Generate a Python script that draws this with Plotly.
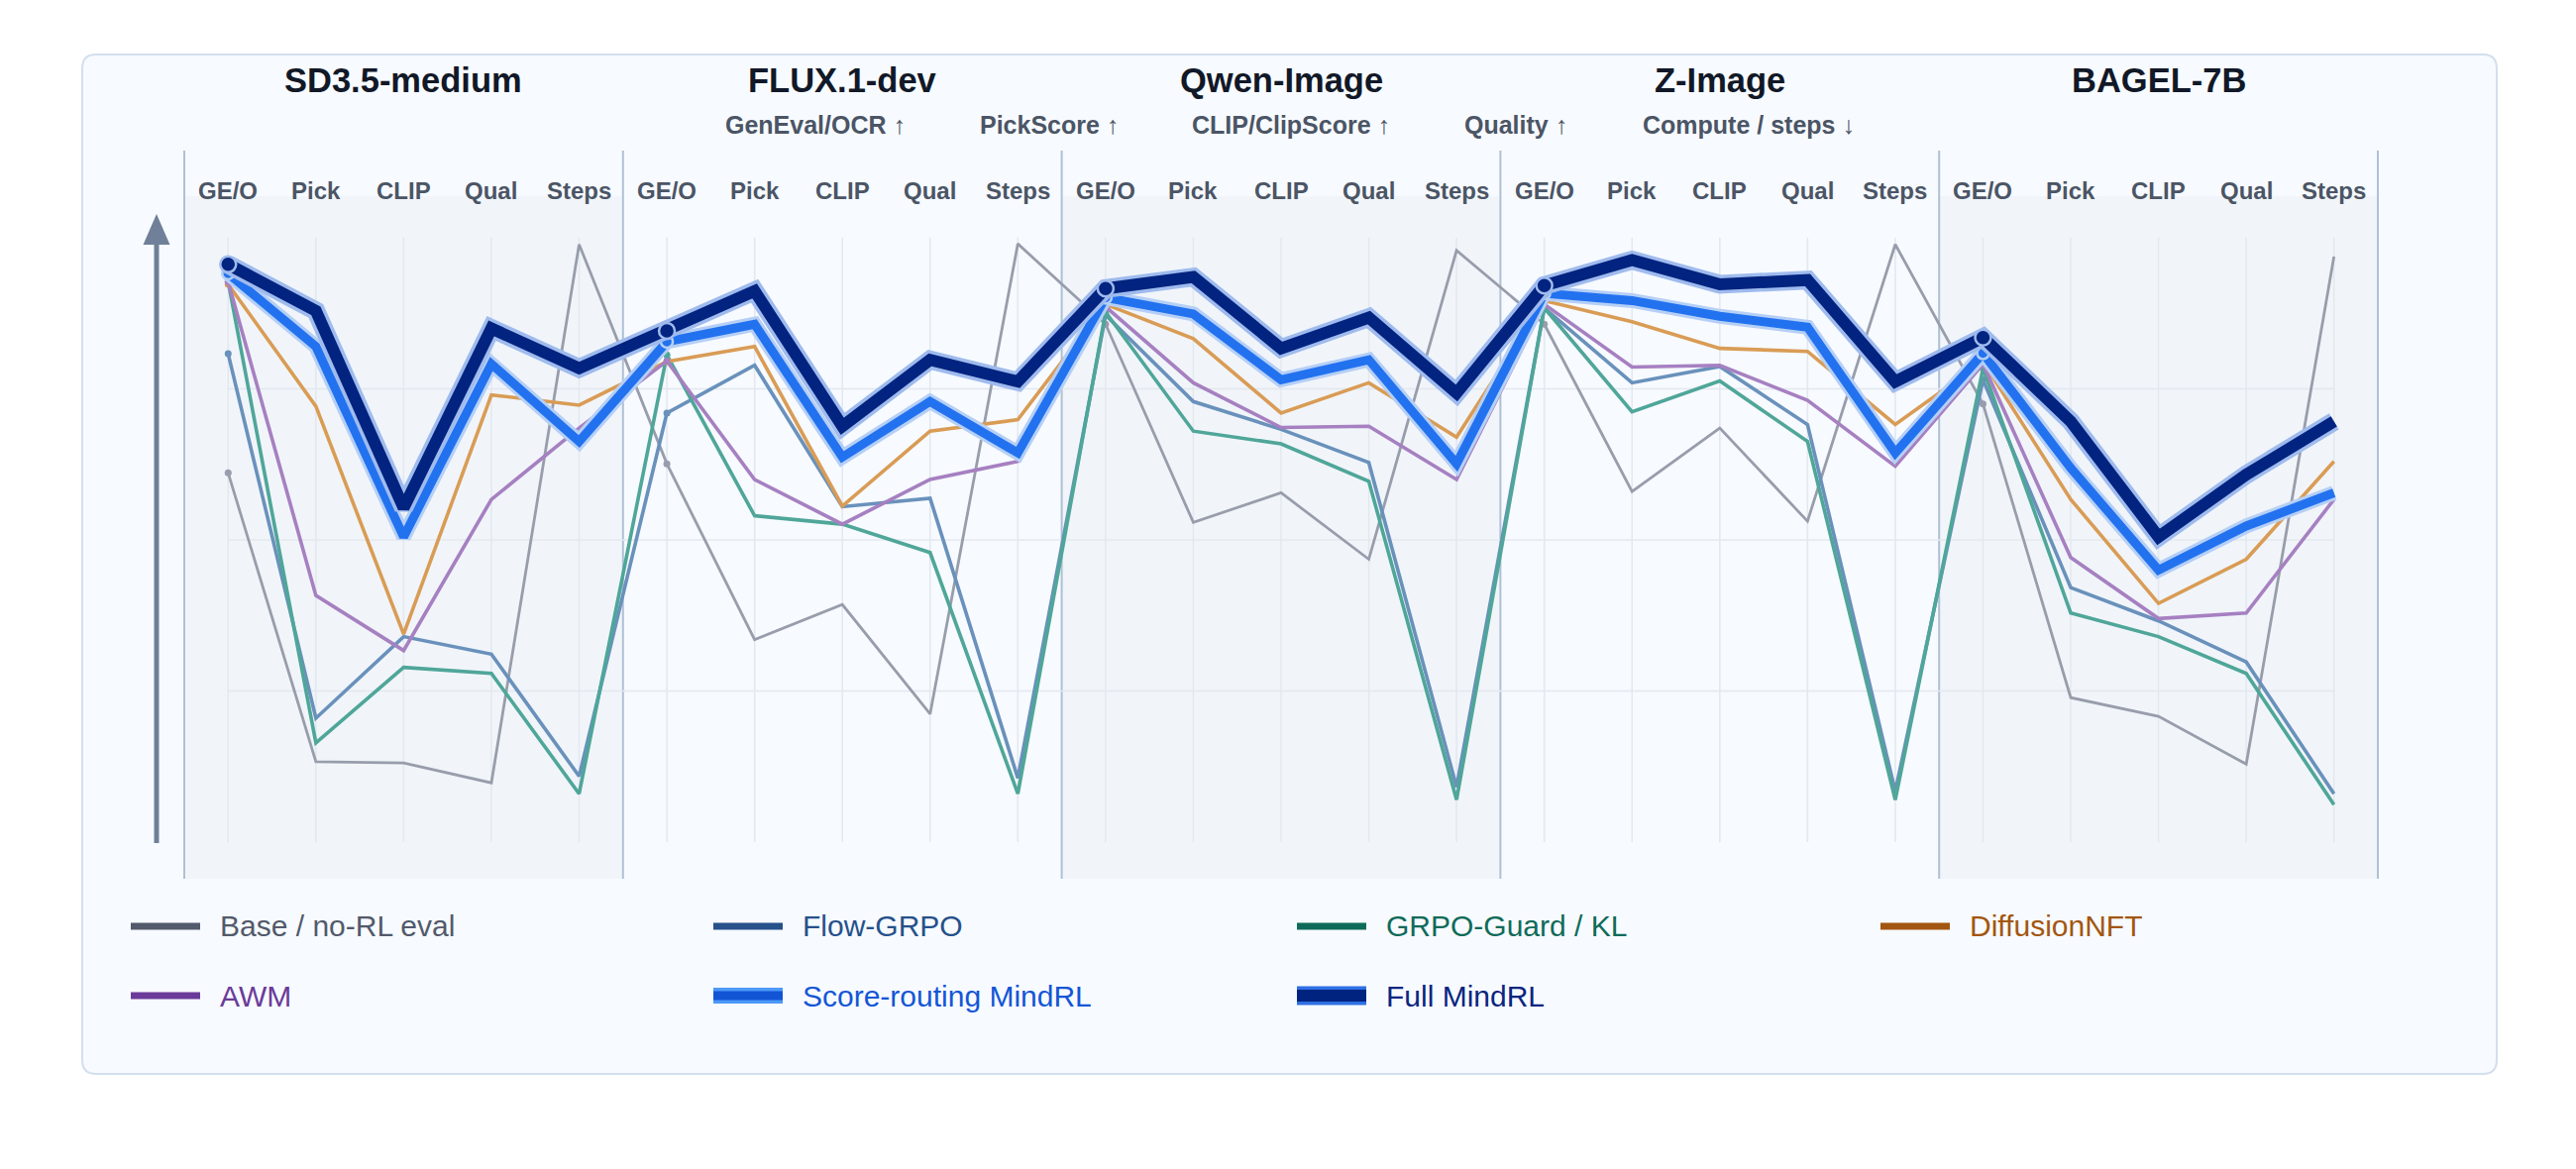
import plotly.graph_objects as go

# ---------------- data (normalized score, 0-100, higher = drawn higher) ----------------
models = ["SD3.5-medium", "FLUX.1-dev", "Qwen-Image", "Z-Image", "BAGEL-7B"]
metrics = ["GE/O", "Pick", "CLIP", "Qual", "Steps"]
metric_names = ["GenEval/OCR ↑", "PickScore ↑", "CLIP/ClipScore ↑", "Quality ↑", "Compute / steps ↓"]

base_no_rl = [61.1, 13.3, 13.1, 9.8, 98.9,
              62.6, 33.5, 39.3, 21.2, 99.0,
              85.7, 52.9, 57.8, 46.8, 97.9,
              85.7, 58.0, 68.5, 53.1, 98.9,
              72.5, 23.9, 20.8, 12.9, 96.9]
flow_grpo = [80.8, 20.5, 34.0, 31.1, 10.9,
             71.0, 78.9, 55.5, 56.9, 10.6,
             87.2, 72.9, 68.3, 62.8, 9.1,
             88.4, 76.0, 78.7, 69.1, 8.4,
             76.5, 42.1, 36.6, 29.8, 8.0]
grpo_guard = [92.7, 16.4, 28.9, 27.9, 8.0,
              80.6, 54.0, 52.6, 47.9, 8.0,
              87.7, 68.0, 65.9, 59.7, 7.0,
              88.4, 71.2, 76.3, 66.3, 7.0,
              78.4, 37.9, 34.0, 27.9, 6.2]
diffusion_nft = [92.3, 72.1, 34.4, 74.0, 72.3,
                 79.5, 82.0, 55.6, 68.0, 69.9,
                 89.0, 83.3, 71.0, 76.0, 67.0,
                 89.6, 86.1, 81.7, 81.2, 69.1,
                 79.5, 56.7, 39.5, 46.8, 63.0]
awm = [92.7, 40.8, 31.7, 56.7, 68.5,
       79.6, 60.0, 52.6, 60.0, 63.0,
       88.6, 76.0, 68.6, 68.8, 60.0,
       89.0, 78.6, 78.9, 73.1, 62.2,
       79.1, 47.1, 37.0, 37.9, 56.7]
score_routing = [94.1, 82.0, 50.5, 79.1, 66.3,
                 82.8, 85.7, 63.7, 72.9, 64.4,
                 90.1, 87.4, 76.5, 79.8, 62.6,
                 90.8, 89.6, 87.0, 85.2, 64.4,
                 80.9, 61.9, 45.0, 52.3, 57.8]
full_mindrl = [95.6, 87.9, 55.3, 85.0, 78.4,
               84.6, 91.2, 68.8, 79.8, 76.2,
               91.6, 93.5, 81.7, 86.8, 74.3,
               92.1, 96.3, 92.3, 93.0, 76.2,
               83.5, 69.6, 50.5, 60.8, 69.6]

series_names = ["Base / no-RL eval", "Flow-GRPO", "GRPO-Guard / KL", "DiffusionNFT",
                "AWM", "Score-routing MindRL", "Full MindRL"]
series_values = [base_no_rl, flow_grpo, grpo_guard, diffusion_nft, awm, score_routing, full_mindrl]

# ---------------- styles ----------------
styles = {
    "Base / no-RL eval": dict(line="#989dab", width=2.8, msize=7, legend="#525a6b", text="#525a6b"),
    "Flow-GRPO": dict(line="#6991bb", width=3.6, msize=7, legend="#26518a", text="#26518a"),
    "GRPO-Guard / KL": dict(line="#4fa699", width=3.6, msize=7, legend="#0f6b59", text="#0f6b59"),
    "DiffusionNFT": dict(line="#d99c55", width=3.6, msize=7, legend="#a3560f", text="#a3560f"),
    "AWM": dict(line="#a680c1", width=3.6, msize=7, legend="#6b3b99", text="#6b3b99"),
    "Score-routing MindRL": dict(line="#2272f0", width=9, halo="#b5cff6", halow=15, msize=12,
                                 legend="#1155d5", legend_out="#4d98f8", text="#1456d6"),
    "Full MindRL": dict(line="#02237f", width=12, halo="#9fbbee", halow=19, msize=16,
                        legend="#00237f", legend_out="#2f6fe3", text="#0a2580"),
}

FONT = "Liberation Sans, Arial, Helvetica, sans-serif"

W, H = 2600, 1180
PL, PR, PT, PB = 186, 2400, 198, 887          # plot area in pixels
Y_TOP_PX, Y_BOT_PX = 240, 850                  # value 100 / value 0
ppu = (Y_BOT_PX - Y_TOP_PX) / 100.0
yr = [0 - (PB - Y_BOT_PX) / ppu, 100 + (Y_TOP_PX - PT) / ppu]

def pxp(x):
    return (x - PL) / (PR - PL)

def pyp(y):
    return (PB - y) / (PB - PT)

n_axes = len(models) * len(metrics)
xs = list(range(n_axes))
first_idx = xs[::len(metrics)]

fig = go.Figure()

for name, vals in zip(series_names, series_values):
    st = styles[name]
    if "halo" in st:
        fig.add_trace(go.Scatter(x=xs, y=vals, mode="lines",
                                 line=dict(color=st["halo"], width=st["halow"]),
                                 hoverinfo="skip", showlegend=False))
        fig.add_trace(go.Scatter(x=xs, y=vals, mode="lines",
                                 line=dict(color=st["line"], width=st["width"]),
                                 name=name, showlegend=False))
        fig.add_trace(go.Scatter(x=[xs[i] for i in first_idx], y=[vals[i] for i in first_idx],
                                 mode="markers",
                                 marker=dict(size=st["msize"], color=st["line"],
                                             line=dict(color=st["halo"], width=2.5)),
                                 hoverinfo="skip", showlegend=False))
    else:
        fig.add_trace(go.Scatter(x=xs, y=vals, mode="lines",
                                 line=dict(color=st["line"], width=st["width"]),
                                 name=name, showlegend=False))
        fig.add_trace(go.Scatter(x=[xs[i] for i in first_idx], y=[vals[i] for i in first_idx],
                                 mode="markers",
                                 marker=dict(size=st["msize"], color=st["line"]),
                                 hoverinfo="skip", showlegend=False))

shapes = []

# card with rounded corners
cx0, cx1, cy0, cy1 = pxp(83), pxp(2520), pyp(1084), pyp(55)
rx, ry = 14 / (PR - PL), 14 / (PB - PT)
card_path = (f"M {cx0+rx},{cy1} L {cx1-rx},{cy1} Q {cx1},{cy1} {cx1},{cy1-ry} "
             f"L {cx1},{cy0+ry} Q {cx1},{cy0} {cx1-rx},{cy0} L {cx0+rx},{cy0} "
             f"Q {cx0},{cy0} {cx0},{cy0+ry} L {cx0},{cy1-ry} Q {cx0},{cy1} {cx0+rx},{cy1} Z")
shapes.append(dict(type="path", path=card_path, xref="paper", yref="paper",
                   fillcolor="#f7faff", line=dict(color="#d3dfed", width=2), layer="below"))

# alternating panel shading
for i in range(len(models)):
    if i % 2 == 0:
        shapes.append(dict(type="rect", xref="paper", yref="paper",
                           x0=i / len(models), x1=(i + 1) / len(models), y0=0, y1=1,
                           fillcolor="#f1f5fa", line=dict(width=0), layer="below"))

# grid lines
for k in xs:
    shapes.append(dict(type="line", xref="x", yref="y", x0=k, x1=k, y0=0, y1=100,
                       line=dict(color="#e3e8ef", width=1.5), layer="below"))
for v in (25, 50, 75):
    shapes.append(dict(type="line", xref="x", yref="y", x0=0, x1=n_axes - 1, y0=v, y1=v,
                       line=dict(color="#e3e8ef", width=1.5), layer="below"))

# panel separators
for i in range(len(models) + 1):
    shapes.append(dict(type="line", xref="paper", yref="paper",
                       x0=i / len(models), x1=i / len(models), y0=0, y1=pyp(152),
                       line=dict(color="#afc0d5", width=2), layer="below"))

# "higher is better" arrow on the left
ax_x = pxp(158)
shapes.append(dict(type="line", xref="paper", yref="paper", x0=ax_x, x1=ax_x,
                   y0=pyp(851), y1=pyp(244), line=dict(color="#6f8098", width=5)))
shapes.append(dict(type="path", xref="paper", yref="paper",
                   path=f"M {ax_x},{pyp(216)} L {pxp(171.5)},{pyp(247)} L {pxp(144.5)},{pyp(247)} Z",
                   fillcolor="#6f8098", line=dict(width=0)))

annotations = []

# model titles
for i, m in enumerate(models):
    annotations.append(dict(text=f"<b>{m}</b>", xref="paper", yref="paper",
                            x=(i + 0.5) / len(models), y=pyp(81), showarrow=False,
                            xanchor="center", yanchor="middle",
                            font=dict(family=FONT, size=34.5, color="#111827")))

# metric legend row
metric_centers_px = [823, 1059, 1303, 1530, 1765]
for t, cpx in zip(metric_names, metric_centers_px):
    annotations.append(dict(text=f"<b>{t}</b>", xref="paper", yref="paper",
                            x=pxp(cpx), y=pyp(126), showarrow=False,
                            xanchor="center", yanchor="middle",
                            font=dict(family=FONT, size=25, color="#4b5565")))

# per-axis labels
for i, m in enumerate(models):
    for j, lab in enumerate(metrics):
        annotations.append(dict(text=f"<b>{lab}</b>", xref="x", yref="paper",
                                x=i * len(metrics) + j, y=pyp(192), showarrow=False,
                                xanchor="center", yanchor="middle",
                                font=dict(family=FONT, size=24, color="#4b5565")))

# custom legend
legend_cols_px = [132, 720, 1309, 1898]
legend_rows_px = [935, 1005]
for idx, name in enumerate(series_names):
    st = styles[name]
    r, c = divmod(idx, 4)
    x0p, x1p = legend_cols_px[c], legend_cols_px[c] + 70
    ypx = legend_rows_px[r]
    if "legend_out" in st:
        ho = 19 if name == "Full MindRL" else 16
        hi = 12 if name == "Full MindRL" else 9
        shapes.append(dict(type="rect", xref="paper", yref="paper",
                           x0=pxp(x0p), x1=pxp(x1p), y0=pyp(ypx + ho / 2), y1=pyp(ypx - ho / 2),
                           fillcolor=st["legend_out"], line=dict(width=0)))
        shapes.append(dict(type="rect", xref="paper", yref="paper",
                           x0=pxp(x0p), x1=pxp(x1p), y0=pyp(ypx + hi / 2), y1=pyp(ypx - hi / 2),
                           fillcolor=st["legend"], line=dict(width=0)))
    else:
        shapes.append(dict(type="line", xref="paper", yref="paper",
                           x0=pxp(x0p), x1=pxp(x1p), y0=pyp(ypx), y1=pyp(ypx),
                           line=dict(color=st["legend"], width=7)))
    annotations.append(dict(text=name, xref="paper", yref="paper",
                            x=pxp(x1p + 18), y=pyp(ypx), showarrow=False,
                            xanchor="left", yanchor="middle",
                            font=dict(family=FONT, size=30, color=st["text"])))

fig.update_layout(
    width=W, height=H,
    margin=dict(l=PL, r=W - PR, t=PT, b=H - PB, pad=0),
    paper_bgcolor="#ffffff",
    plot_bgcolor="rgba(0,0,0,0)",
    xaxis=dict(range=[-0.5, n_axes - 0.5], visible=False, showgrid=False, zeroline=False, fixedrange=True),
    yaxis=dict(range=yr, visible=False, showgrid=False, zeroline=False, fixedrange=True),
    shapes=shapes,
    annotations=annotations,
    showlegend=False,
    font=dict(family=FONT),
)

fig.write_html("out.html", config={"displayModeBar": False})
